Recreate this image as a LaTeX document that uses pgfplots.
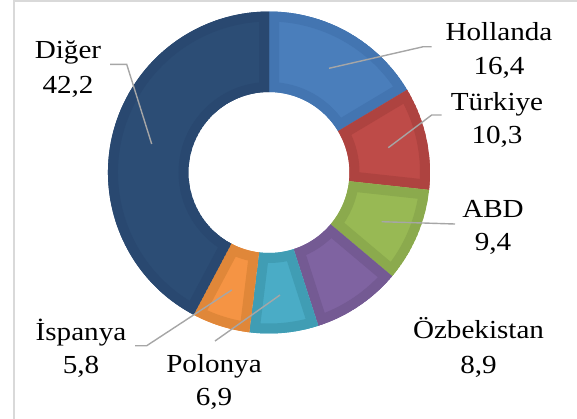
\documentclass[border=0pt]{standalone}
\usepackage{fontspec}
\setmainfont{Liberation Serif}[FakeStretch=1.12]
\usepackage{pgfplots}
\usepackage{pgfplotstable}
\pgfplotsset{compat=1.18}

\definecolor{holL}{HTML}{4A7EBB}\definecolor{holD}{HTML}{4375B1}
\definecolor{turL}{HTML}{BE4B48}\definecolor{turD}{HTML}{AE4340}
\definecolor{abdL}{HTML}{98B954}\definecolor{abdD}{HTML}{8BAA4D}
\definecolor{ozbL}{HTML}{7F63A1}\definecolor{ozbD}{HTML}{745A93}
\definecolor{polL}{HTML}{4AACC6}\definecolor{polD}{HTML}{409DB4}
\definecolor{ispL}{HTML}{F59444}\definecolor{ispD}{HTML}{E08739}
\definecolor{digL}{HTML}{2C4D75}\definecolor{digD}{HTML}{294870}
\definecolor{leadc}{HTML}{A6A6A6}
\definecolor{framec}{HTML}{D9D9D9}

% share values, clockwise from 12 o'clock
\pgfplotstableread{
key value light dark
Hollanda 16.4 holL holD
Turkiye 10.3 turL turD
ABD 9.4 abdL abdD
Ozbekistan 8.9 ozbL ozbD
Polonya 6.9 polL polD
Ispanya 5.8 ispL ispD
Diger 42.2 digL digD
}\donut

\def\Rout{161pt}
\def\Rin{80.5pt}

\begin{document}
\begin{tikzpicture}
\begin{axis}[
    hide axis, scale only axis,
    width=577pt, height=418pt,
    xmin=0, xmax=577, ymin=0, ymax=418,
    y dir=reverse, clip=false
]
\pgfplotsextra{
  \coordinate (C) at (axis cs:269,172.5);
  \pgfplotstablegetrowsof{\donut}
  \pgfmathtruncatemacro\nlast{\pgfplotsretval-1}
  \xdef\total{0}
  \foreach \i in {0,...,\nlast}{
    \pgfplotstablegetelem{\i}{value}\of\donut
    \pgfmathsetmacro\t{\total+\pgfplotsretval}
    \xdef\total{\t}
  }
  \xdef\startang{90}
  \foreach \i in {0,...,\nlast}{
    \pgfplotstablegetelem{\i}{value}\of\donut \edef\v{\pgfplotsretval}
    \pgfplotstablegetelem{\i}{light}\of\donut \edef\cl{\pgfplotsretval}
    \pgfplotstablegetelem{\i}{dark}\of\donut \edef\cd{\pgfplotsretval}
    \pgfmathsetmacro\aend{\startang-\v*360/\total}
    \def\wedge{([shift={(\startang:\Rout)}]C) arc[start angle=\startang, end angle=\aend, radius=\Rout]
      -- ([shift={(\aend:\Rin)}]C) arc[start angle=\aend, end angle=\startang, radius=\Rin] -- cycle}
    \begin{scope}
      \clip \wedge;
      \fill[\cl] \wedge;
      \draw[\cd, line width=20pt] \wedge;
    \end{scope}
    \xdef\startang{\aend}
  }
}
% frame
\draw[framec, line width=1.5pt] (axis cs:14,440) -- (axis cs:14,1.2) -- (axis cs:600,1.2);
% leader lines
\draw[leadc, line width=1.4pt] (axis cs:329,68.3) -- (axis cs:423.3,46.7) -- (axis cs:431.7,46.7);
\draw[leadc, line width=1.4pt] (axis cs:388.3,147.7) -- (axis cs:431.7,115) -- (axis cs:441.7,115);
\draw[leadc, line width=1.4pt] (axis cs:381.7,221.7) -- (axis cs:455,224);
\draw[leadc, line width=1.4pt] (axis cs:231.7,290) -- (axis cs:146.7,345.7) -- (axis cs:135,345.7);
\draw[leadc, line width=1.4pt] (axis cs:280,295) -- (axis cs:215,341);
\draw[leadc, line width=1.4pt] (axis cs:151.7,144) -- (axis cs:126.7,64.3) -- (axis cs:110,64.3);
% labels
\tikzset{lab/.style={anchor=base, inner sep=0pt, font=\fontsize{26}{30}\selectfont}}
\node[lab] at (axis cs:499,40.5) {Hollanda};
\node[lab] at (axis cs:499,74) {16,4};
\node[lab] at (axis cs:497,110) {Türkiye};
\node[lab] at (axis cs:497,143.5) {10,3};
\node[lab] at (axis cs:493,217.7) {ABD};
\node[lab] at (axis cs:493,250.5) {9,4};
\node[lab] at (axis cs:478.5,338.3) {Özbekistan};
\node[lab] at (axis cs:478.5,373) {8,9};
\node[lab] at (axis cs:81,340) {İspanya};
\node[lab] at (axis cs:81,373) {5,8};
\node[lab] at (axis cs:214,372.7) {Polonya};
\node[lab] at (axis cs:214,405) {6,9};
\node[lab] at (axis cs:68,58.3) {Diğer};
\node[lab] at (axis cs:68,93) {42,2};
\end{axis}
\pgfresetboundingbox
\path[use as bounding box] (current axis.south west) rectangle (current axis.north east);
\end{tikzpicture}
\end{document}
